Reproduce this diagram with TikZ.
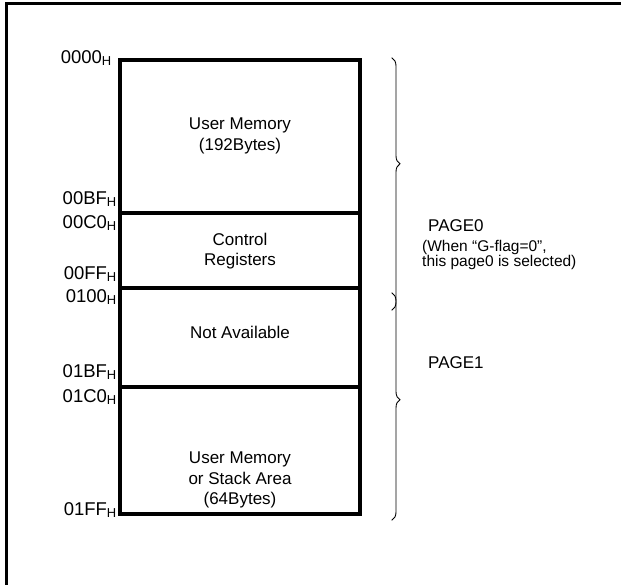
\documentclass[tikz,border=0pt]{standalone}
\usepackage{fontspec}
\setmainfont{Liberation Sans}
\usetikzlibrary{decorations.pathreplacing}
\newcommand{\addr}[1]{#1\textsubscript{H}}

\begin{document}
\begin{tikzpicture}[x=1pt, y=-1pt, line cap=rect]
\tikzset{frame/.style={line width=3pt}, cell/.style={line width=3.2pt},
  celltext/.style={align=center, inner sep=0pt, font=\fontsize{17}{20.5}\selectfont},
  addrlabel/.style={anchor=base east, inner sep=0pt, font=\fontsize{18.5}{21}\selectfont},
  pagelabel/.style={anchor=base west, inner sep=0pt, font=\fontsize{17}{20}\selectfont},
  pagebrace/.style={decorate, decoration={brace, amplitude=8pt, aspect=#1}, line width=0.9pt}}
\useasboundingbox (0,0) rectangle (621,584);

% outer frame (cut off)
\draw[frame] (6.5,584) -- (6.5,3.5) -- (621,3.5);

% memory map corners (px)
\coordinate (M0) at (120,60);
\coordinate (M4) at (360,514);

% cells
\draw[cell] (M0) rectangle (M4);
\foreach \y in {213,288,387}
  \draw[cell] (120,\y) -- (360,\y);

% cell texts
\node[celltext] (um0) at (240,136) {User Memory\\(192Bytes)};
\node[celltext] (ctrl) at (240,251) {Control\\Registers};
\node[celltext] (na) at (240,332) {Not Available};
\node[celltext] (um1) at (240,480) {User Memory\\or Stack Area\\(64Bytes)};

% addresses
\node[addrlabel] (a0000) at (112,63) {\addr{0000}};
\node[addrlabel] (a00BF) at (117,204) {\addr{00BF}};
\node[addrlabel] (a00C0) at (117,228) {\addr{00C0}};
\node[addrlabel] (a00FF) at (117,279) {\addr{00FF}};
\node[addrlabel] (a0100) at (117,302) {\addr{0100}};
\node[addrlabel] (a01BF) at (117,377) {\addr{01BF}};
\node[addrlabel] (a01C0) at (117,402) {\addr{01C0}};
\node[addrlabel] (a01FF) at (117,515) {\addr{01FF}};

% page braces
\coordinate (B0t) at (392,58);
\coordinate (B0b) at (392,310);
\coordinate (B1t) at (392,293);
\coordinate (B1b) at (392,520);
\draw[pagebrace=0.42] (B0t) -- (B0b);
\draw[pagebrace=0.47] (B1t) -- (B1b);

% page labels
\node[pagelabel] (p0) at (428,231) {PAGE0};
\node[anchor=north west, inner sep=0pt, align=left, font=\fontsize{15.5}{15.5}\selectfont] (p0note) at (422,240)
  {(When “G-flag=0”,\\ this page0 is selected)};
\node[pagelabel] (p1) at (428,368) {PAGE1};
\end{tikzpicture}
\end{document}
